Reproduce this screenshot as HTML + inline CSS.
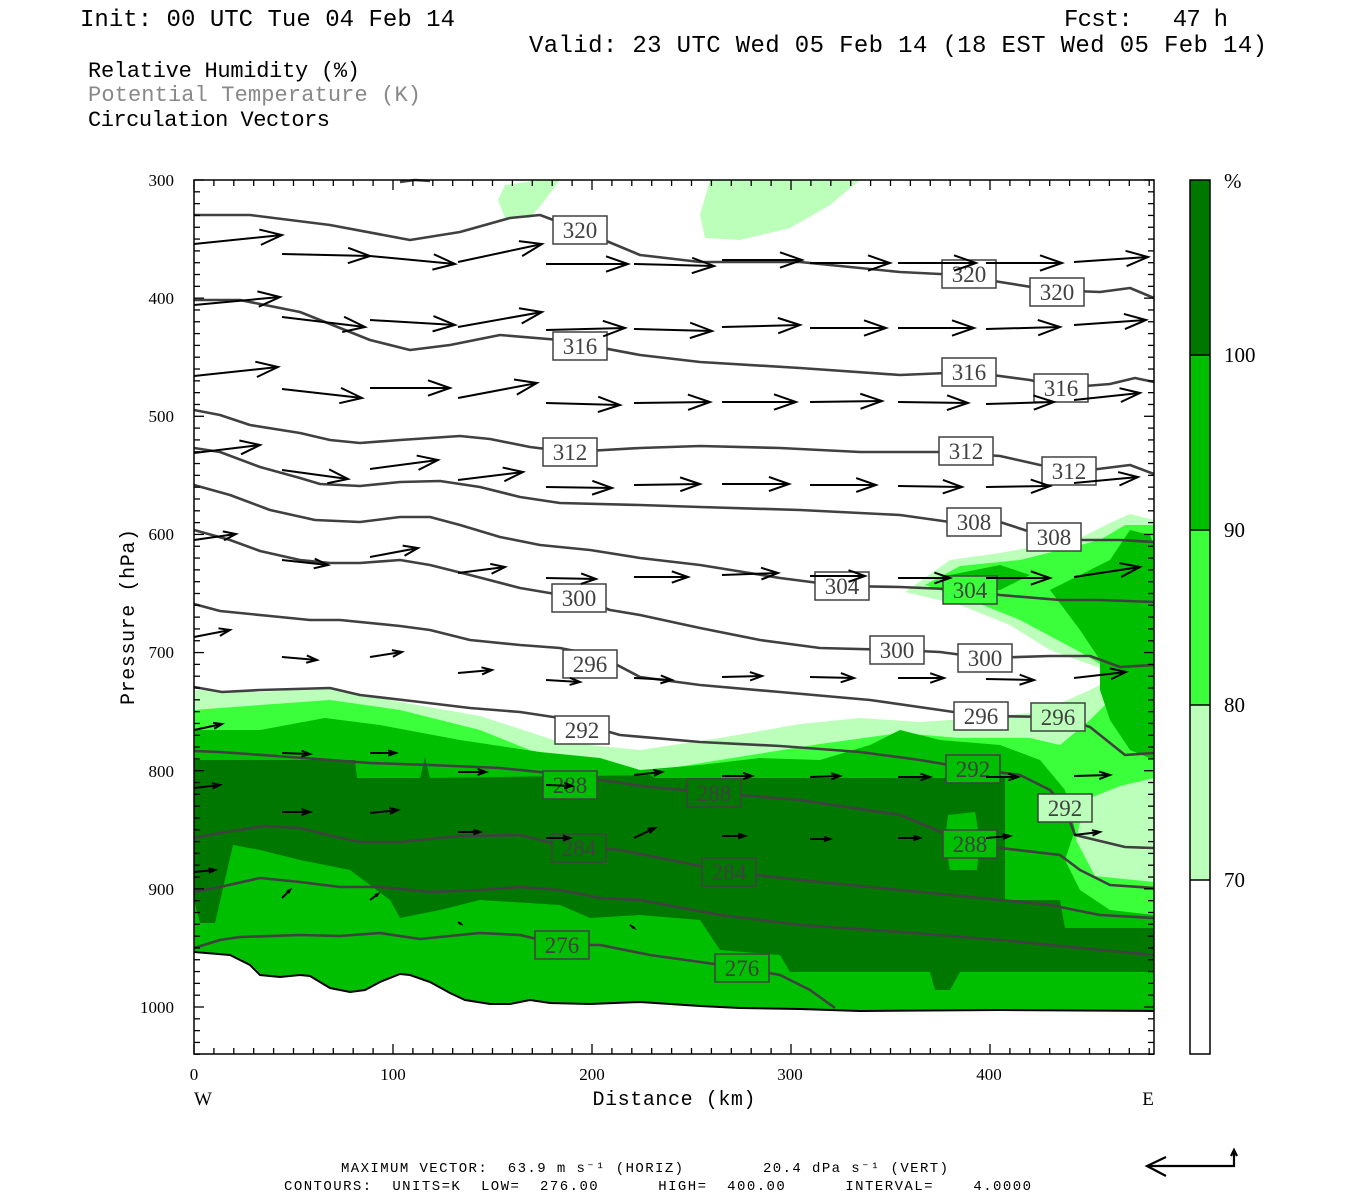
<!DOCTYPE html>
<html><head><meta charset="utf-8"><style>
html,body{margin:0;padding:0;background:#fff;}
svg{display:block;}
text{font-family:"Liberation Serif",serif;}
.m{font-family:"Liberation Mono",monospace;}
</style></head><body>
<svg id="s" width="1350" height="1200" viewBox="0 0 1350 1200" xmlns="http://www.w3.org/2000/svg">
<rect width="1350" height="1200" fill="#fff"/>
<g id="fill">
<!-- light 70-80 -->
<polygon fill="#bbffbb" points="194,690 260,692 330,688 400,702 480,716 560,742 640,750 720,738 800,724 860,718 920,722 980,718 1040,712 1090,690 1125,672 1100,668 1050,650 1010,625 960,605 905,592 950,560 1000,553 1080,538 1110,523 1130,514 1154,520 1154,1011 1000,1010 860,1011 740,1008 590,1004 550,1003 530,1000 510,1004 490,1004 465,1000 450,993 430,982 410,975 400,974 380,982 365,990 350,992 330,988 310,976 300,975 280,977 260,975 250,965 230,955 194,952"/>
<polygon fill="#bbffbb" points="498,200 505,185 540,180 560,180 545,200 530,218 505,218"/>
<polygon fill="#bbffbb" points="710,180 860,180 830,205 790,228 740,240 705,238 700,215"/>
<!-- bright 80-90 -->
<polygon fill="#3cff3c" points="194,710 260,705 330,700 400,710 480,730 560,762 640,773 720,760 820,744 900,733 960,738 1030,738 1060,745 1090,720 1110,700 1130,682 1080,652 1020,620 970,600 925,585 960,566 1020,560 1100,540 1125,525 1154,525 1154,1011 1000,1010 860,1011 740,1008 590,1004 550,1003 530,1000 510,1004 490,1004 465,1000 450,993 430,982 410,975 400,974 380,982 365,990 350,992 330,988 310,976 300,975 280,977 260,975 250,965 230,955 194,952"/>
<!-- medium 90-100 -->
<polygon fill="#00bf00" points="194,730 260,730 325,718 380,725 460,740 540,752 600,758 640,770 700,765 760,758 820,760 870,745 900,730 940,740 1000,745 1040,760 1065,790 1075,830 1065,860 1080,890 1110,910 1154,915 1154,1011 1000,1010 860,1011 740,1008 590,1004 550,1003 530,1000 510,1004 490,1004 465,1000 450,993 430,982 410,975 400,974 380,982 365,990 350,992 330,988 310,976 300,975 280,977 260,975 250,965 230,955 194,952"/>
<polygon fill="#00bf00" points="1050,590 1080,575 1110,560 1130,530 1150,535 1154,545 1154,760 1130,750 1110,720 1100,690 1100,660 1080,630 1065,610"/>
<polygon fill="#00bf00" points="950,575 1000,565 1030,575 1000,590 960,590"/>
<!-- dark >100 -->
<polygon fill="#007800" points="194,760 355,760 357,778 420,778 425,757 430,778 650,775 655,778 1005,778 1005,900 1060,900 1065,928 1154,928 1154,972 960,972 950,990 935,990 930,972 790,972 780,955 720,950 700,920 640,915 590,918 560,905 480,900 440,910 400,918 390,900 350,870 300,860 260,850 233,845 215,923 200,923 194,900"/>
<polygon fill="#00bf00" points="948,815 975,812 980,840 977,870 950,870 945,840"/>
<!-- pocket light -->
<polygon fill="#bbffbb" points="1154,778 1120,786 1085,800 1076,840 1095,876 1154,882"/>
</g>
<g id="cont" fill="none" stroke="#404040" stroke-width="2.6" stroke-linejoin="round"></g>
<!-- terrain -->
<polyline fill="none" stroke="#fff" stroke-width="5" points="194,954 230,957 250,967 260,977 280,979 300,977 310,978 330,990 350,994 365,992 380,984 400,976 410,977 430,984 450,995 465,1002 490,1006 510,1006 530,1002 550,1005 590,1006 640,1004 700,1008 740,1010 800,1011 860,1013 1000,1012 1154,1013"/>
<polyline fill="none" stroke="#000" stroke-width="2" points="194,952 230,955 250,965 260,975 280,977 300,975 310,976 330,988 350,992 365,990 380,982 400,974 410,975 430,982 450,993 465,1000 490,1004 510,1004 530,1000 550,1003 590,1004 640,1002 700,1006 740,1008 800,1009 860,1011 1000,1010 1154,1011"/>
<g id="labs"></g>
<g id="arr" fill="none" stroke="#000" stroke-width="2"></g>
<g id="ticks" stroke="#000" stroke-width="1.3"></g>
<rect x="194" y="180" width="960" height="874" fill="none" stroke="#000" stroke-width="1.5"/>

<!-- texts -->
<text class="m" x="80" y="26" font-size="24" textLength="375">Init: 00 UTC Tue 04 Feb 14</text>
<text class="m" x="1064" y="26" font-size="24" textLength="164" xml:space="preserve">Fcst:   47 h</text>
<text class="m" x="529" y="52" font-size="24" textLength="738">Valid: 23 UTC Wed 05 Feb 14 (18 EST Wed 05 Feb 14)</text>
<text class="m" x="88" y="77" font-size="22" textLength="272">Relative Humidity (%)</text>
<text class="m" x="88" y="101" font-size="22" textLength="333" fill="#888">Potential Temperature (K)</text>
<text class="m" x="88" y="126" font-size="22" textLength="242">Circulation Vectors</text>
<g font-size="17" text-anchor="end">
<text x="174" y="186">300</text><text x="174" y="304">400</text><text x="174" y="422">500</text><text x="174" y="540">600</text><text x="174" y="658">700</text><text x="174" y="777">800</text><text x="174" y="895">900</text><text x="174" y="1013">1000</text>
</g>
<g font-size="17" text-anchor="middle">
<text x="194" y="1080">0</text><text x="393" y="1080">100</text><text x="592" y="1080">200</text><text x="790" y="1080">300</text><text x="989" y="1080">400</text>
</g>
<text x="203" y="1105" font-size="19" text-anchor="middle">W</text>
<text x="1148" y="1105" font-size="19" text-anchor="middle">E</text>
<text class="m" x="674" y="1105" font-size="20" text-anchor="middle" textLength="163">Distance (km)</text>
<text class="m" transform="translate(134,617) rotate(-90)" font-size="20" text-anchor="middle" textLength="176">Pressure (hPa)</text>
<!-- colorbar -->
<rect x="1190" y="180" width="20" height="175" fill="#007800"/>
<rect x="1190" y="355" width="20" height="175" fill="#00bf00"/>
<rect x="1190" y="530" width="20" height="175" fill="#3cff3c"/>
<rect x="1190" y="705" width="20" height="175" fill="#bbffbb"/>
<rect x="1190" y="880" width="20" height="174" fill="#fff"/>
<g stroke="#000" stroke-width="1.5"><rect x="1190" y="180" width="20" height="874" fill="none"/>
<line x1="1190" y1="355" x2="1210" y2="355"/><line x1="1190" y1="530" x2="1210" y2="530"/><line x1="1190" y1="705" x2="1210" y2="705"/><line x1="1190" y1="880" x2="1210" y2="880"/></g>
<g font-size="21"><text x="1224" y="188">%</text><text x="1224" y="362">100</text><text x="1224" y="537">90</text><text x="1224" y="712">80</text><text x="1224" y="887">70</text></g>
<text class="m" x="341" y="1172" font-size="14" textLength="607" xml:space="preserve">MAXIMUM VECTOR:  63.9 m s⁻¹ (HORIZ)        20.4 dPa s⁻¹ (VERT)</text>
<text class="m" x="284" y="1190" font-size="14" textLength="747" xml:space="preserve">CONTOURS:  UNITS=K  LOW=  276.00      HIGH=  400.00      INTERVAL=    4.0000</text>
<g stroke="#000" stroke-width="2.2" fill="none"><polyline points="1234,1150 1234,1166 1147,1166"/><polyline points="1166,1157 1147,1166 1166,1176"/><polyline points="1231,1156 1234,1150 1237,1156"/></g>
</svg>
<script>
var NS="http://www.w3.org/2000/svg";
function el(p,t,a){var e=document.createElementNS(NS,t);for(var k in a)e.setAttribute(k,a[k]);p.appendChild(e);return e;}
var C=[
"194,215 250,215 330,225 410,240 460,232 510,218 540,215 580,230 640,255 700,262 800,262 900,272 960,275 1000,282 1050,290 1100,292 1130,288 1154,298",
"194,300 240,300 300,312 370,340 410,350 450,345 500,335 560,340 640,355 700,362 800,368 900,375 970,372 1030,380 1060,388 1110,384 1135,378 1154,382",
"194,410 220,415 250,425 300,433 330,440 360,443 400,440 460,436 490,439 530,447 570,452 640,448 700,446 780,448 860,452 940,452 1000,456 1040,465 1090,470 1130,465 1154,474",
"194,448 220,452 260,467 300,478 320,484 360,486 400,482 440,481 480,487 520,497 560,503 640,505 700,507 800,510 900,515 950,522 1000,522 1040,535 1080,540 1120,540 1154,542",
"194,485 230,495 270,510 315,520 360,522 400,517 430,517 460,525 500,537 540,545 590,550 640,558 700,565 780,578 842,586 900,587 970,590 1000,595 1060,600 1100,600 1154,602",
"194,530 230,540 260,551 300,560 330,563 360,563 400,560 430,565 470,575 520,588 579,598 610,610 640,615 700,628 760,640 820,648 897,650 940,652 985,658 1050,656 1090,656 1120,667 1154,665",
"194,604 220,611 270,616 310,620 340,620 400,626 430,630 470,640 520,645 560,648 600,656 640,677 700,685 780,692 870,700 940,710 981,716 1058,717 1090,727 1125,755 1154,753",
"194,687 222,692 260,690 330,688 360,695 420,702 470,708 520,712 560,718 620,735 700,742 780,746 860,752 920,760 973,769 1020,775 1050,790 1065,808 1075,835 1125,847 1154,848",
"194,751 220,752 290,757 370,763 430,765 500,768 560,774 600,780 650,787 714,793 800,800 900,815 970,844 1000,848 1060,855 1080,870 1110,885 1154,888",
"194,838 220,833 265,826 300,828 340,838 360,842 400,842 460,836 520,835 560,845 620,850 680,862 729,872 800,880 900,890 1000,900 1050,905 1100,915 1154,918",
"194,892 220,887 260,878 300,882 340,887 380,887 430,892 480,890 520,887 560,890 600,898 640,900 720,915 800,925 900,932 1000,940 1100,950 1154,955",
"194,948 220,940 240,937 300,935 340,936 380,933 420,939 480,933 520,935 562,945 600,945 650,955 700,962 742,968 780,975 810,990 835,1008",
"400,182 415,180 430,181"];
var g=document.getElementById("cont");
C.forEach(function(p){el(g,"polyline",{points:p});});
var L=[["320",580,230,"#fff"],["320",969,274,"#fff"],["320",1057,292,"#fff"],["316",580,346,"#fff"],["316",969,372,"#fff"],["316",1061,388,"#fff"],
["312",570,452,"#fff"],["312",966,451,"#fff"],["312",1069,471,"#fff"],["308",974,522,"#fff"],["308",1054,537,"#fff"],["304",842,586,"#fff"],["304",970,590,"#3cff3c"],
["300",579,598,"#fff"],["300",897,650,"#fff"],["300",985,658,"#fff"],["296",590,664,"#fff"],["296",981,716,"#fff"],["296",1058,717,"#bbffbb"],
["292",582,730,"#fff"],["292",973,769,"#00bf00"],["292",1065,808,"#bbffbb"],["288",570,785,"#00bf00"],["288",714,793,"#007800"],["288",970,844,"#00bf00"],
["284",579,848,"#007800"],["284",729,872,"#007800"],["276",562,945,"#00bf00"],["276",742,968,"#00bf00"]];
var lg=document.getElementById("labs");
L.forEach(function(l){el(lg,"rect",{x:l[1]-27,y:l[2]-14,width:54,height:28,fill:l[3],stroke:"#404040","stroke-width":1.5});
var t=el(lg,"text",{x:l[1],y:l[2]+8,"text-anchor":"middle","font-size":23,fill:"#404040"});t.textContent=l[0];});
var A=[
[194,244,282,235],[282,254,370,256],[370,256,455,264],[458,262,542,244],[546,264,628,264],[634,264,714,266],[722,260,802,260],[810,263,890,263],[898,263,976,263],[986,263,1062,263],[1074,262,1148,257],
[194,305,280,297],[282,317,365,327],[370,320,455,325],[458,327,542,312],[546,330,625,328],[634,329,712,331],[722,327,800,325],[810,328,886,328],[898,328,974,328],[986,329,1060,327],[1074,325,1146,320],
[194,376,278,367],[282,389,362,398],[370,388,450,388],[458,398,537,383],[546,403,620,405],[634,403,710,402],[722,402,796,402],[810,402,882,401],[898,402,968,403],[986,404,1054,402],[1074,400,1140,393],
[194,453,260,445],[282,470,348,479],[370,469,438,460],[458,480,523,472],[546,487,612,488],[634,485,700,484],[722,484,789,484],[810,485,876,485],[898,486,962,487],[986,487,1050,486],[1074,483,1138,477],
[194,540,236,534],[282,560,328,565],[370,557,418,548],[458,573,505,567],[546,578,596,579],[634,577,688,577],[722,575,778,573],[810,576,865,576],[898,578,950,578],[986,578,1050,578],[1074,577,1140,567],
[194,637,230,630],[282,657,317,660],[370,657,402,652],[458,673,492,670],[546,680,580,682],[634,678,672,680],[722,677,762,676],[810,677,854,678],[898,678,944,678],[986,679,1034,680],[1074,678,1126,672],
[194,730,222,724],[282,753,310,754],[370,753,396,753],[458,772,486,772],[546,785,572,786],[634,775,662,772],[722,776,752,776],[810,777,840,776],[898,777,930,777],[986,777,1018,777],[1074,776,1110,775],
[194,788,220,785],[282,812,310,812],[370,813,398,810],[458,832,480,832],[546,838,570,838],[634,838,655,828],[722,836,745,836],[810,839,830,839],[898,838,920,838],[986,838,1010,836],[1074,835,1100,832],
[194,872,215,870],[282,898,290,890],[370,900,378,894],[458,922,461,924],[630,925,634,928]];
var ag=document.getElementById("arr");
A.forEach(function(a){var dx=a[2]-a[0],dy=a[3]-a[1],len=Math.sqrt(dx*dx+dy*dy);if(len<1)return;var ux=dx/len,uy=dy/len;
var h=Math.min(22,len*0.3),w=h*0.35;
el(ag,"line",{x1:a[0],y1:a[1],x2:a[2],y2:a[3]});
var bx=a[2]-ux*h,by=a[3]-uy*h;
el(ag,"polyline",{points:(bx-uy*w)+","+(by+ux*w)+" "+a[2]+","+a[3]+" "+(bx+uy*w)+","+(by-ux*w)});});
var tg=document.getElementById("ticks");
for(var p=300;p<=1040;p+=10){var y=180+(p-300)*827/700;var big=(p%100==0);var l=big?10:6;
el(tg,"line",{x1:194,y1:y,x2:194+l,y2:y});el(tg,"line",{x1:1154,y1:y,x2:1154-l,y2:y});}
for(var k=0;k<=480;k+=10){var x=194+k*1.99;var big=(k%100==0);var l=big?10:6;
el(tg,"line",{x1:x,y1:1054,x2:x,y2:1054-l});el(tg,"line",{x1:x,y1:180,x2:x,y2:180+l});}
</script>
</body></html>
